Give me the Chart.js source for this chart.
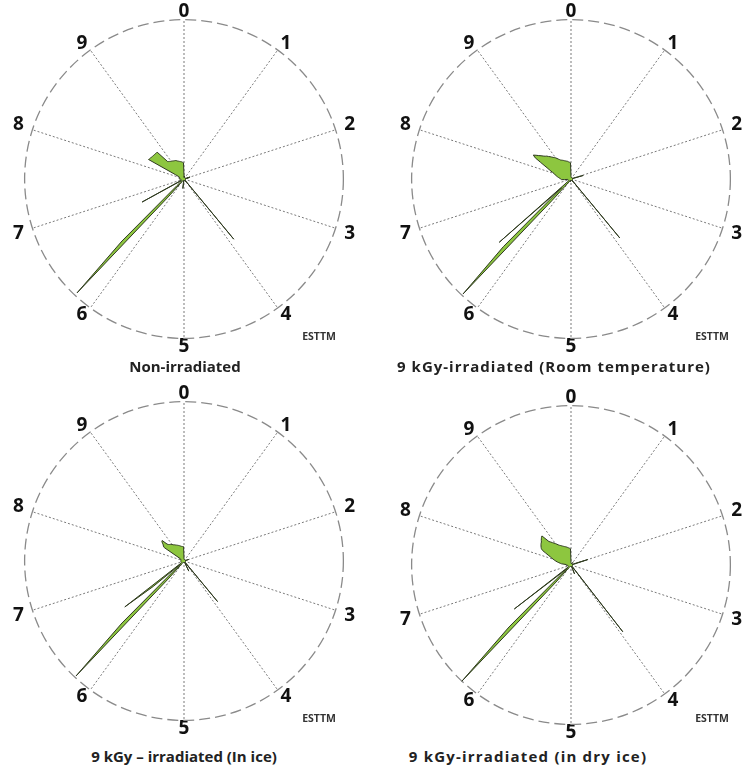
<!DOCTYPE html>
<html>
<head>
<meta charset="utf-8">
<script src="https://cdn.jsdelivr.net/npm/chart.js@4.4.1/dist/chart.umd.min.js"></script>
<style>
  body { margin: 0; background: #fff; }
  #page { position: relative; width: 745px; height: 767px; overflow: hidden; font-family: "Open Sans", sans-serif; }
  .box { position: absolute; width: 362px; height: 362px; }
  .titulo { position: absolute; transform: translate(-50%, -50%); font-weight: bold; font-size: 15px; color: #222; white-space: nowrap; }
  .marca { position: absolute; transform: translate(-50%, -50%); font-weight: bold; font-size: 10.5px; color: #333; }
</style>
</head>
<body>
<div id="page">
  <div class="box" style="left:4px; top:-2px;"><canvas id="graficoNaoIrr"></canvas></div>
  <div class="box" style="left:391px; top:-2px;"><canvas id="graficoAmbiente"></canvas></div>
  <div class="box" style="left:4px; top:380px;"><canvas id="graficoGelo"></canvas></div>
  <div class="box" style="left:391px; top:384px;"><canvas id="graficoGeloSeco"></canvas></div>

  <div class="titulo" style="left:185px; top:366px;">Non-irradiated</div>
  <div class="titulo" style="left:554px; top:366px; letter-spacing:1px;">9 kGy-irradiated (Room temperature)</div>
  <div class="titulo" style="left:184px; top:756px;">9 kGy – irradiated (In ice)</div>
  <div class="titulo" style="left:528px; top:756px; letter-spacing:1.2px;">9 kGy-irradiated (in dry ice)</div>

  <div class="marca" style="left:319px; top:336px;">ESTTM</div>
  <div class="marca" style="left:712px; top:336px;">ESTTM</div>
  <div class="marca" style="left:319px; top:718px;">ESTTM</div>
  <div class="marca" style="left:712px; top:718px;">ESTTM</div>
</div>

<script>
// direcoes 0..9, cada uma dividida em 20 passos (0.05)
const direcoes = ["0", "1", "2", "3", "4", "5", "6", "7", "8", "9"];
const passos = 20;

// valores em % do raio, uma linha por direcao (x.00 ... x.95)
const naoIrradiado = [
  2, 1, 1, 1, 1, 2, 1, 1, 1, 1, 1, 1, 1, 1, 1, 1, 1, 1, 1, 1,
  1, 1, 1, 1, 1, 1, 1, 1, 1, 1, 1, 1, 1, 1, 1, 1, 1, 1, 1, 2,
  4, 2, 3, 1, 1, 1, 1, 1, 1, 1, 1, 1, 1, 1, 1, 1, 1, 1, 1, 1,
  1, 1, 1, 1, 1, 1, 1, 1, 1, 1, 1, 1, 1, 1, 1, 1, 1, 1, 49, 1,
  1, 1, 2, 1, 1, 1, 1, 1, 1, 1, 1, 1, 1, 1, 1, 1, 1, 1, 1, 1,
  1, 1, 1, 3, 6, 3, 1, 1, 1, 1, 1, 1, 1, 1, 1, 1, 1, 1, 1, 1,
  2, 3, 4, 15, 98, 55, 6, 3, 2, 2, 2, 2, 2, 3, 30, 3, 2, 2, 2, 2,
  2, 2, 2, 2, 2, 2, 2, 2, 2, 2, 3, 3, 3, 3, 3, 3, 3, 3, 3, 3,
  3, 3, 3, 4, 4, 6, 25.4, 25, 24.8, 24.5, 24.3, 24.2, 24, 24, 23.8, 23.8, 15, 14.6, 14.3, 14,
  13.8, 13.6, 13.4, 13.2, 13, 12.9, 12.8, 12.6, 12.3, 12, 11.8, 11.6, 11.4, 11.2, 11.1, 11, 10.8, 10.6, 10.4, 10.2,
];

const temperaturaAmbiente = [
  1.5, 1, 1, 1, 1, 1, 1, 1, 1, 1, 1, 1, 1, 1, 1, 1, 1, 1, 1, 1,
  1, 1, 1, 1, 1, 1, 1, 1, 1, 1, 1, 1, 1, 1, 1, 1, 1, 1, 1, 3,
  3, 8, 2, 1, 1, 1, 1, 1, 1, 1, 1, 1, 1, 1, 1, 1, 1, 1, 1, 1,
  1, 1, 1, 1, 1, 1, 1, 1, 1, 1, 1, 1, 1, 1, 1, 1, 1, 2, 48, 1,
  1, 2, 1, 1, 1, 1, 1, 1, 1, 1, 1, 1, 1, 1, 1, 1, 1, 1, 1, 1,
  1, 1, 1, 1, 1, 1, 1, 1, 1, 1, 2, 1, 1, 1, 1, 1, 1, 1, 1, 1,
  3, 4, 6, 18, 99, 60, 8, 60, 4, 3, 2, 2, 2, 2, 2, 2, 2, 2, 2, 2,
  2, 2, 2, 2, 2, 2, 2, 4, 6, 6.2, 6.3, 6.7, 7.1, 7.6, 8, 8.5, 9, 9.6, 10.2, 10.7,
  11.2, 12.3, 13.5, 15, 16.6, 19, 22, 26, 28, 26.5, 25, 23.8, 22.6, 21.6, 21, 20, 19.2, 18.4, 17.6, 17,
  16.4, 15.6, 14.8, 14.2, 13.6, 13.3, 13, 12.8, 12.5, 12.2, 12, 11.8, 11.6, 11.4, 11.3, 11, 10.8, 10.6, 10.4, 10.2,
];

const noGelo = [
  1.5, 1, 1, 1, 1, 1, 1, 1, 1, 1, 1, 1, 1, 1, 1, 1, 1, 1, 1, 1,
  1, 1, 1, 1, 1, 1, 1, 1, 1, 1, 1, 1, 1, 1, 1, 1, 1, 1, 1, 1,
  3, 1, 1, 1, 1, 1, 1, 1, 1, 1, 1, 1, 1, 1, 1, 1, 1, 1, 1, 1,
  1, 1, 1, 1, 1, 1, 1, 1, 1, 1, 1, 1, 1, 1, 1, 1, 1, 1, 33, 1,
  1, 1, 1, 1, 2, 3, 7, 2, 1, 1, 1, 1, 1, 1, 1, 1, 1, 1, 1, 1,
  1, 1, 1, 1, 1, 1, 1, 1, 1, 1, 1, 1, 1, 1, 1, 1, 1, 1, 1, 1,
  2, 3, 4, 15, 99, 55, 6, 3, 25, 47, 3, 2, 2, 2, 2, 2, 2, 2, 2, 2,
  2, 2, 2, 2, 2, 2, 2, 2, 2, 2, 2, 2, 2, 2, 2, 2, 2, 2, 2, 2,
  2, 2, 2, 2, 2, 3, 3, 3, 3, 15, 16, 16.5, 17.5, 18.5, 18.8, 15, 14.2, 13.8, 13.5, 13.2,
  12.8, 12.4, 12, 11.8, 11.5, 11.3, 11, 10.8, 10.6, 10.4, 10.2, 10, 9.8, 9.6, 9.4, 9.3, 9.2, 9.1, 9, 9,
];

const geloSeco = [
  1.5, 1, 1, 1, 1, 1, 1, 1, 1, 1, 1, 1, 1, 1, 1, 1, 1, 1, 1, 2,
  1, 1, 1, 1, 1, 1, 1, 1, 1, 1, 1, 1, 1, 1, 1, 1, 1, 1, 2, 4,
  11, 3, 1, 1, 1, 1, 1, 1, 1, 1, 1, 1, 1, 1, 1, 1, 1, 1, 1, 1,
  1, 1, 1, 1, 1, 1, 1, 1, 1, 1, 1, 1, 1, 1, 1, 1, 1, 1, 1, 53,
  1, 1, 1, 1, 1, 1, 1, 3, 6, 3, 1, 1, 1, 1, 1, 1, 1, 1, 1, 1,
  1, 1, 1, 1, 1, 1, 1, 1, 1, 1, 1, 1, 1, 1, 1, 1, 1, 1, 1, 1,
  2, 3, 4, 15, 100, 55, 6, 3, 8, 45, 3, 2, 2, 2, 2, 2, 2, 2, 2, 2,
  2, 2, 2, 2, 2, 2, 2, 2, 3, 3, 3, 3, 3, 3, 6, 6.8, 7.8, 8.8, 9.8, 10.8,
  11.8, 12.8, 14, 15.6, 17.5, 20, 21.2, 21.8, 22.3, 22.8, 23.2, 23.5, 24.2, 24.8, 25.4, 25.8, 20.2, 19.2, 18.2, 17.4,
  16.6, 15.8, 15, 14.4, 14, 13.6, 13.2, 12.9, 12.6, 12.3, 12.1, 11.9, 11.7, 11.5, 11.2, 11, 10.8, 10.6, 10.4, 10.2,
];

// rotulos: so a cada 20 passos aparece o numero
const rotulos = [];
for (let i = 0; i < direcoes.length * passos; i++) {
  rotulos.push(i % passos == 0 ? direcoes[i / passos] : "");
}

// rotulos 2, 3, 7 e 8 ficam um pouco mais afastados do circulo
function espacoRotulo(ctx) {
  const d = ctx.index / passos;
  if (d == 2 || d == 3 || d == 7 || d == 8) return 9;
  return 5;
}

function criarGrafico(idCanvas, valores) {
  const canvas = document.getElementById(idCanvas);

  return new Chart(canvas, {
    type: "radar",
    data: {
      labels: rotulos,
      datasets: [
        {
          data: valores,
          fill: true,
          backgroundColor: "#8dc63f",
          borderColor: "#2f3a20",
          borderWidth: 1,
          pointRadius: 0,
          tension: 0,
        },
      ],
    },
    options: {
      responsive: true,
      maintainAspectRatio: false,
      animation: false,
      layout: { padding: 10 },
      plugins: {
        legend: { display: false },
        tooltip: { enabled: false },
      },
      scales: {
        r: {
          min: 0,
          max: 100,
          ticks: { display: false, stepSize: 100 },
          grid: {
            circular: true,
            color: "#8a8a8a",
            lineWidth: 1.3,
          },
          border: { dash: [11, 5] },
          angleLines: {
            color: "#7a7a7a",
            lineWidth: (ctx) => (ctx.index % passos == 0 ? 1 : 0),
            borderDash: [2, 2],
          },
          pointLabels: {
            padding: espacoRotulo,
            color: "#111",
            font: { family: "Open Sans", weight: "bold", size: 19, lineHeight: 0.3 },
          },
        },
      },
    },
  });
}

criarGrafico("graficoNaoIrr", naoIrradiado);
criarGrafico("graficoAmbiente", temperaturaAmbiente);
criarGrafico("graficoGelo", noGelo);
criarGrafico("graficoGeloSeco", geloSeco);
</script>
</body>
</html>
